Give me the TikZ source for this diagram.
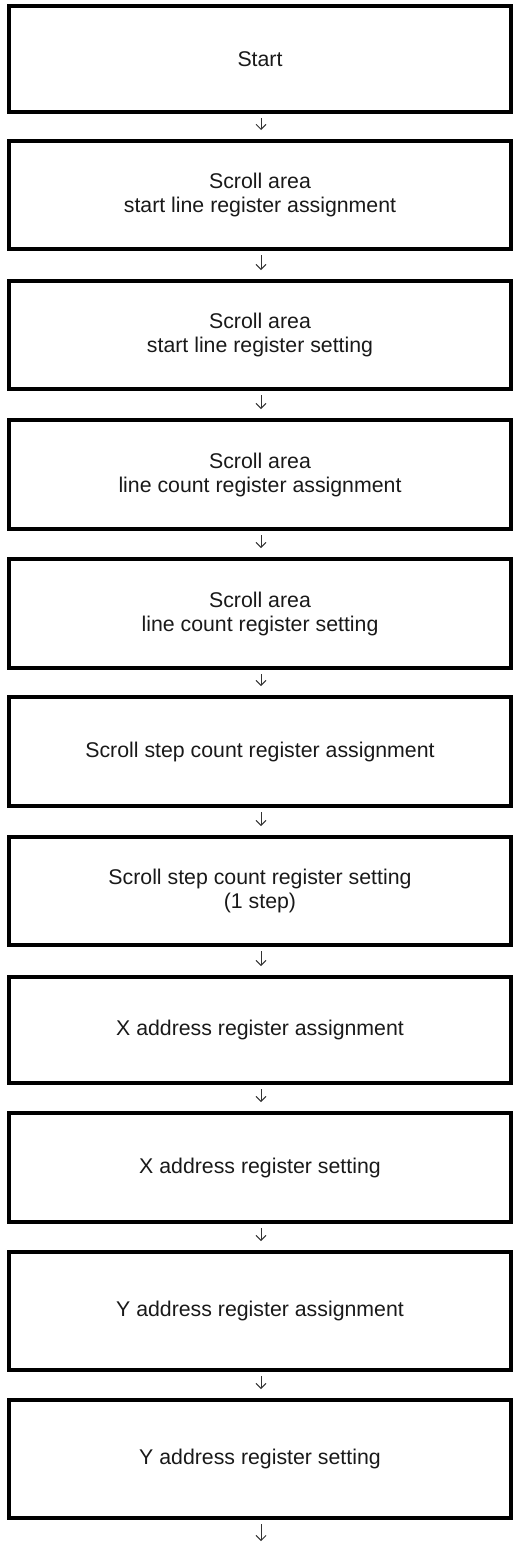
\documentclass[tikz,border=0pt]{standalone}
\usepackage{fontspec}
\setmainfont{Liberation Sans}
\usetikzlibrary{arrows.meta}
\tikzset{
  stepbox/.style={draw=black, line width=4pt, minimum width=502pt, inner sep=0pt, align=center, font=\fontsize{21.3}{24}\selectfont, text=black!90},
  flow/.style={draw=black!80, line width=0.9pt, -{Straight Barb[length=5pt,width=10pt]}, shorten >=9pt, shorten <=4pt}
}
\newcommand{\bx}[4]{\pgfmathsetmacro{\hh}{#3-#2}\pgfmathsetmacro{\yy}{-(#2+#3)/2}\node[stepbox, minimum height=\hh pt] (#1) at (260,\yy) {#4};}
\begin{document}
\begin{tikzpicture}[x=1pt,y=1pt]
\useasboundingbox (0,0) rectangle (515,-1542);
\bx{b1}{6}{112}{Start}
\bx{b2}{141}{249}{Scroll area\\start line register assignment}
\bx{b3}{281}{389}{Scroll area\\start line register setting}
\bx{b4}{420}{529}{Scroll area\\line count register assignment}
\bx{b5}{559}{668}{Scroll area\\line count register setting}
\bx{b6}{697}{806}{Scroll step count register assignment}
\bx{b7}{837}{945}{Scroll step count register setting\\(1 step)}
\bx{b8}{977}{1083}{X address register assignment}
\bx{b9}{1113}{1222}{X address register setting}
\bx{b10}{1252}{1370}{Y address register assignment}
\bx{b11}{1400}{1518}{Y address register setting}
\coordinate (end) at (261,-1542);
\foreach \a/\b in {b1/b2,b2/b3,b3/b4,b4/b5,b5/b6,b6/b7,b7/b8,b8/b9,b9/b10,b10/b11}
  \draw[flow] ([xshift=1pt]\a.south) -- ([xshift=1pt]\b.north);
\draw[flow, shorten >=1pt] ([xshift=1pt]b11.south) -- (end);
\end{tikzpicture}
\end{document}
